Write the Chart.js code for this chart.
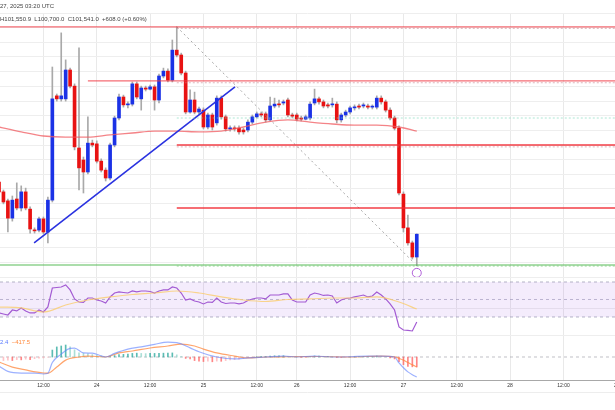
<!DOCTYPE html>
<html>
<head>
<meta charset="utf-8">
<script src="https://cdn.jsdelivr.net/npm/chart.js@4.4.1/dist/chart.umd.min.js"></script>
<style>
  html, body { margin: 0; padding: 0; background: #fff; overflow: hidden; }
  #wrap { position: relative; width: 615px; height: 410px; overflow: hidden; }
  canvas { position: absolute; left: 0; top: 0; }
  .txt { position: absolute; font-family: "Liberation Sans", Arial, sans-serif; font-size: 6px;
         line-height: 8px; white-space: nowrap; color: #444; }
</style>
</head>
<body>
<div id="wrap">
  <canvas id="chart" width="615" height="410"></canvas>
  <div id="hdrDate" class="txt" style="top:2px"></div>
  <div id="hdrOhlc" class="txt" style="top:15px"></div>
  <div id="hdrMacd" class="txt" style="top:338px"></div>
</div>
<script>
// hourly candles, BTC/USD, Jan 23 00:00 -> Jan 27 03:00 (index = bar number)
var opens = [102930,102670,102430,101970,102480,102240,102670,102210,101650,101650,
  101950,101600,102450,105230,105150,105150,105920,105490,103840,103520,
  103200,103970,103950,103490,103250,103040,103920,104640,105200,104990,
  105010,105550,105150,105440,105410,105470,105120,105760,105890,105650,
  106450,106320,105840,104800,105120,104800,104850,104400,104720,104510,
  105170,104670,104350,104370,104370,104320,104320,104530,104670,104750,
  104750,104590,104960,105010,105040,105120,104720,104720,104640,104610,
  104640,105040,105150,105070,104990,104990,105010,104590,104720,104800,
  104910,104960,104960,104960,104930,104930,105170,105070,104850,104640,
  104370,102610,101710,101310,100933];
var highs = [102990,102720,102480,102560,102910,102830,102770,102270,101710,102000,
  102000,102530,106000,105280,106910,106190,105970,105550,106510,103600,
  104670,104050,104030,103550,103310,103970,104690,105280,105250,105070,
  105600,105600,105490,105490,105520,105520,105810,105970,105950,106720,
  107070,106370,105890,105390,105330,104930,104910,104770,104770,105230,
  105230,104720,104430,104430,104430,104370,104590,104720,104800,104800,
  104800,105200,105170,105120,105120,105170,104770,104770,104690,104720,
  105070,105410,105200,105120,105040,105170,105070,104770,104850,104960,
  104990,105010,105040,105010,104990,105230,105230,105120,104910,104690,
  104430,102670,102050,101360,101550.9];
var lows = [102610,102350,101600,101890,102190,102160,102190,101570,101570,101600,
  101550,101310,102400,105090,105090,105090,105440,103790,102720,102640,
  103150,103870,103440,103200,102960,102990,103870,104590,104930,104910,
  104960,105150,104850,105360,105390,104850,105040,105710,105600,105600,
  106270,105790,104750,104770,104750,104750,104350,104350,104320,104450,
  104610,104290,104290,104290,104210,104210,104270,104480,104640,104670,
  104530,104560,104910,104930,104990,104670,104640,104560,104560,104590,
  104590,104990,105010,104910,104910,104930,104510,104530,104670,104750,
  104850,104880,104910,104880,104880,104880,105010,104800,104590,104320,
  102590,101600,101250,100880,100700];
var closes = [102670,102400,101970,102450,102240,102670,102240,101680,101630,101950,
  101600,102450,105150,105150,105230,105920,105490,103870,103310,103200,
  103970,103920,103490,103250,103040,103920,104640,105200,104990,105010,
  105550,105200,105440,105410,105470,105120,105760,105890,105650,106450,
  106320,105840,104800,105120,104800,104880,104400,104720,104400,105170,
  104670,104350,104370,104350,104270,104270,104530,104670,104750,104720,
  104590,104960,105010,104990,105070,104720,104690,104610,104610,104670,
  105010,105150,105070,104960,104960,105010,104590,104720,104800,104910,
  104930,104930,104990,104930,104940,105170,105070,104850,104640,104370,
  102640,101710,101310,100933,101541];

// moving average on price (read at some bars)
var maIdx = [0,5,10,15,20,25,30,35,40,45,50,55,60,65,70,75,80,85,90,94];
var maVal = [104400,104270,104160,104130,104130,104190,104240,104290,104290,104270,
  104290,104400,104530,104590,104530,104480,104450,104450,104400,104290];

// RSI
var rsi = [34.6,33.4,32.3,38,36.9,40.3,36.9,34.6,34.6,38,
  35.7,41.4,63.1,63.7,64.3,66.6,60.9,50.6,47.1,46.6,
  51.7,51.7,49.4,48.3,46,52.9,57.4,58.6,58,57.4,
  59.7,58.6,59.7,59.7,59.1,57.4,59.7,60.9,60.9,64.3,
  63.1,57.4,49.4,50.6,48.3,47.1,44.9,47.1,46.6,51.7,
  47.1,45.4,46,46,44.9,46,48.9,50.6,51.7,51.7,
  50.6,55.1,55.1,55.1,56.3,56.3,49.4,47.1,47.1,47.1,
  55.1,57.4,56.3,54.6,55.1,54,46,49.4,51.1,51.7,
  52.9,54,55.1,52.9,54,58.6,55.1,50.6,44.9,38,
  18.6,15.1,14.6,14,24.3];
var rsiMaIdx = [0,5,10,15,20,25,30,35,40,45,50,55,60,65,70,75,80,85,90,94];
var rsiMaVal = [41.4,40.3,35.7,43.7,49.4,52.9,55.7,57.4,59.7,57.4,
  52.9,49.4,47.7,50,50.6,51.7,51.7,52.9,47.1,39.1];
var rsiUpper = 70, rsiMid = 50, rsiLower = 30;

// MACD
var macdHist = [-170,-150,-130,-150,-110,-120,-90,-110,-70,-50,
  -40,-10,290,420,460,500,420,300,170,150,
  130,100,70,40,0,20,60,100,110,120,
  150,160,150,140,150,150,150,160,160,170,
  90,20,-60,-80,-150,-170,-190,-170,-200,-170,
  -180,-150,-120,-110,-90,-60,-30,-10,10,20,
  20,40,50,50,50,30,10,0,-10,-10,
  20,40,40,30,30,20,-20,-20,-10,0,
  10,20,20,20,20,40,30,0,-40,-80,
  -200,-320,-390,-410,-414.9];
var macdIdx = [0,2,5,8,10,11,12,14,16,17,19,21,23,24,26,29,32,35,38,40,
  43,45,49,53,56,60,64,67,71,75,79,83,86,89,90,91,92,93,94];
var macdVal = [-380,-600,-670,-670,-710,-680,-230,120,360,370,170,160,50,0,150,330,420,530,620,600,
  380,220,0,-80,-40,0,40,0,40,0,10,40,40,0,-250,-450,-620,-740,-832.4];
var sigIdx = [0,3,6,10,11,13,15,18,20,24,27,30,34,38,41,44,46,49,53,56,60,65,72,79,86,89,90,91,92,93,94];
var sigVal = [-210,-420,-540,-668,-675,-420,-130,0,40,0,170,250,376,460,540,460,330,170,40,-40,
  0,10,20,0,40,10,-60,-130,-230,-330,-417.5];

// drawings: horizontal levels (price, first bar), trend line, projection
var levelPrice = [107070, 105630, 103920, 102240];
var levelFrom = [0, 20, 40, 40];
var supportPrice = 100720;
var guidePrice = [107030, 105580, 103870];
var lastPricePrice = 104640;
var guideFrom = 40;
var trendIdx = [7.9, 53.1], trendPrice = [101310, 105470];
var projIdx = [40, 93.2], projPrice = [107070, 100800];
var eventIdx = [94], eventPrice = [100510];

// time axis
var tickIdx = [10, 22, 34, 46, 58, 67, 79, 91, 103, 115, 127, 139];
var tickLabels = ["12:00", "24", "12:00", "25", "12:00", "26", "12:00", "27", "12:00", "28", "12:00", "29"];

var xMin = 0.225, xMax = 138.6;
var upColor = "#1b32e6", downColor = "#e81212";
var font = "'Liberation Sans', Arial, sans-serif";

function pts(idx, vals) {
  return idx.map(function (x, i) { return { x: x, y: vals[i] }; });
}
function hline(price, from) {
  return [{ x: from, y: price }, { x: xMax, y: price }];
}
function lineSet(data, color, width, axis, extra) {
  var ds = { type: "line", data: data, borderColor: color, borderWidth: width, pointRadius: 0,
    yAxisID: axis, order: 0, fill: false, tension: 0 };
  return Object.assign(ds, extra || {});
}

var bars = opens.map(function (o, i) { return i; });
var bodyColors = bars.map(function (i) { return closes[i] >= opens[i] ? upColor : downColor; });
var histColors = macdHist.map(function (v, i) {
  var prev = i > 0 ? macdHist[i - 1] : v;
  if (v >= 0) return v >= prev ? "rgba(38,166,154,0.75)" : "rgba(150,215,205,0.8)";
  return v <= prev ? "rgba(255,82,82,0.7)" : "rgba(255,180,185,0.8)";
});

var datasets = [];
// candles
datasets.push({ type: "bar", data: bars.map(function (i) { return { x: i, y: [opens[i], closes[i]] }; }),
  backgroundColor: bodyColors, barThickness: 3, minBarLength: 1, grouped: false, yAxisID: "price", order: 2 });
datasets.push({ type: "bar", data: bars.map(function (i) { return { x: i, y: [lows[i], highs[i]] }; }),
  backgroundColor: "#a9a9a9", barThickness: 1, grouped: false, yAxisID: "price", order: 3 });
// moving average
datasets.push(lineSet(pts(maIdx, maVal), "rgba(240,90,95,0.75)", 1.3, "price",
  { cubicInterpolationMode: "monotone", order: 1 }));
// levels
levelPrice.forEach(function (p, k) {
  datasets.push(lineSet(hline(p, levelFrom[k]), k < 2 ? "rgba(242,60,70,0.75)" : "rgba(242,40,50,0.9)", 1.3, "price"));
});
guidePrice.forEach(function (p) {
  datasets.push(lineSet(hline(p, guideFrom), "rgba(200,130,140,0.6)", 1, "price", { borderDash: [2, 2] }));
});
datasets.push(lineSet(hline(lastPricePrice, guideFrom), "rgba(120,215,185,0.6)", 1, "price", { borderDash: [2, 2] }));
datasets.push(lineSet(hline(supportPrice, xMin), "rgba(70,180,70,0.9)", 1.2, "price"));
datasets.push(lineSet(hline(supportPrice - 30, guideFrom), "rgba(120,200,120,0.6)", 1, "price", { borderDash: [2, 2] }));
datasets.push(lineSet(pts(trendIdx, trendPrice), "#2a32e0", 1.6, "price"));
datasets.push(lineSet(pts(projIdx, projPrice), "rgba(150,150,150,0.85)", 1, "price", { borderDash: [2, 3] }));
datasets.push({ type: "scatter", data: pts(eventIdx, eventPrice), yAxisID: "price", order: 0,
  pointRadius: 4.5, pointBorderColor: "#b060d8", pointBackgroundColor: "#fff", pointBorderWidth: 1 });

// RSI pane
datasets.push(lineSet(hline(rsiUpper, xMin), "rgba(150,150,175,0.7)", 1, "rsi", { borderDash: [3, 3], order: 5 }));
datasets.push(lineSet(hline(rsiLower, xMin), "rgba(150,150,175,0.7)", 1, "rsi",
  { borderDash: [3, 3], order: 5, fill: "-1", backgroundColor: "rgba(156,80,230,0.11)" }));
datasets.push(lineSet(hline(rsiMid, xMin), "rgba(150,150,175,0.6)", 1, "rsi", { borderDash: [3, 3], order: 5 }));
datasets.push(lineSet(pts(rsiMaIdx, rsiMaVal), "rgba(250,205,110,0.8)", 1.2, "rsi",
  { cubicInterpolationMode: "monotone" }));
datasets.push(lineSet(pts(bars, rsi), "#a35bd3", 1.2, "rsi"));

// MACD pane
datasets.push(lineSet(hline(0, xMin), "rgba(150,150,160,0.6)", 1, "macd", { borderDash: [3, 3], order: 5 }));
datasets.push({ type: "bar", data: pts(bars, macdHist), backgroundColor: histColors, barThickness: 1,
  grouped: false, yAxisID: "macd", order: 4 });
datasets.push(lineSet(pts(macdIdx, macdVal), "rgba(90,125,255,0.6)", 1.2, "macd", { cubicInterpolationMode: "monotone" }));
datasets.push(lineSet(pts(sigIdx, sigVal), "rgba(255,135,60,0.75)", 1.2, "macd", { cubicInterpolationMode: "monotone" }));

function paneScale(weight, min, max, step, hideValue) {
  return {
    type: "linear", position: "right", stack: "panes", stackWeight: weight, min: min, max: max,
    ticks: { display: false, stepSize: step },
    grid: { drawTicks: false, color: function (ctx) {
      return ctx.tick && ctx.tick.value === hideValue ? "rgba(0,0,0,0)" : "#eeeeee";
    } },
    border: { display: false },
    afterFit: function (s) { s.width = 0; }
  };
}

var framePlugin = {
  id: "frame",
  afterDraw: function (chart) {
    var c = chart.ctx;
    c.save();
    c.strokeStyle = "#ededed";
    c.lineWidth = 1;
    c.beginPath();
    c.moveTo(0, 392.5);
    c.lineTo(615, 392.5);
    c.stroke();
    c.restore();
  }
};

var macdScale = paneScale(45, -960, 918, 5000, null);
macdScale.afterBuildTicks = function (s) { s.ticks = [{ value: s.min }, { value: s.max }]; };

new Chart(document.getElementById("chart"), {
  data: { datasets: datasets },
  options: {
    responsive: false, animation: false, devicePixelRatio: 1,
    layout: { autoPadding: false, padding: { top: 13, left: 0, right: 0, bottom: 0 } },
    plugins: { legend: { display: false }, tooltip: { enabled: false } },
    scales: {
      x: {
        type: "linear", position: "bottom", min: xMin, max: xMax, offset: false,
        afterBuildTicks: function (s) { s.ticks = tickIdx.map(function (v) { return { value: v }; }); },
        ticks: { autoSkip: false, maxRotation: 0, padding: 3, color: "#333",
          font: { family: font, size: 5 },
          callback: function (v, i) { return tickLabels[i]; } },
        grid: { drawTicks: false, offset: false, color: "#e9e9e9" },
        border: { display: true, color: "#a8a8a8" },
        afterFit: function (s) { s.height = 30; s.paddingLeft = 0; s.paddingRight = 0; }
      },
      price: paneScale(264, 100400, 107440, 400, 107200),
      rsi: paneScale(58, 9.4, 75.7, 20, null),
      macd: macdScale
    }
  },
  plugins: [framePlugin]
});

// header texts
function num(v) {
  return Math.abs(v).toLocaleString("en-US", { minimumFractionDigits: 1, maximumFractionDigits: 1 });
}
function signed(v) { return (v < 0 ? "\u2212" : "+") + num(v); }
var last = closes.length - 1;
var chg = closes[last] - closes[last - 1];
var pct = chg / closes[last - 1] * 100;

document.getElementById("hdrDate").innerHTML = '<span class="cut">Jan </span>27, 2025 03:20 UTC';
document.getElementById("hdrOhlc").innerHTML =
  '<span class="cut">O' + num(opens[last]) + '&nbsp;&nbsp;</span>H' + num(highs[last]) +
  '&nbsp;&nbsp;L' + num(lows[last]) + '&nbsp;&nbsp;C' + num(closes[last]) +
  '&nbsp;&nbsp;' + signed(chg) + ' (' + (pct >= 0 ? '+' : '\u2212') + Math.abs(pct).toFixed(2) + '%)';
var macdText = "\u2212" + num(macdVal[macdVal.length - 1]);
document.getElementById("hdrMacd").innerHTML =
  '<span class="cut"><span style="color:#ef6a6a">' + "\u2212" + num(macdHist[last]) + '</span>&nbsp;&nbsp;' +
  '<span style="color:#5b7cff">' + macdText.slice(0, -3) + '</span></span>' +
  '<span style="color:#5b7cff">' + macdText.slice(-3) + '</span>&nbsp;&nbsp;' +
  '<span style="color:#ff8a3d">' + "\u2212" + num(sigVal[sigVal.length - 1]) + '</span>';

document.querySelectorAll(".txt").forEach(function (el) {
  var cut = el.querySelector(".cut");
  if (cut) el.style.left = (-cut.getBoundingClientRect().width) + "px";
});
</script>
</body>
</html>
